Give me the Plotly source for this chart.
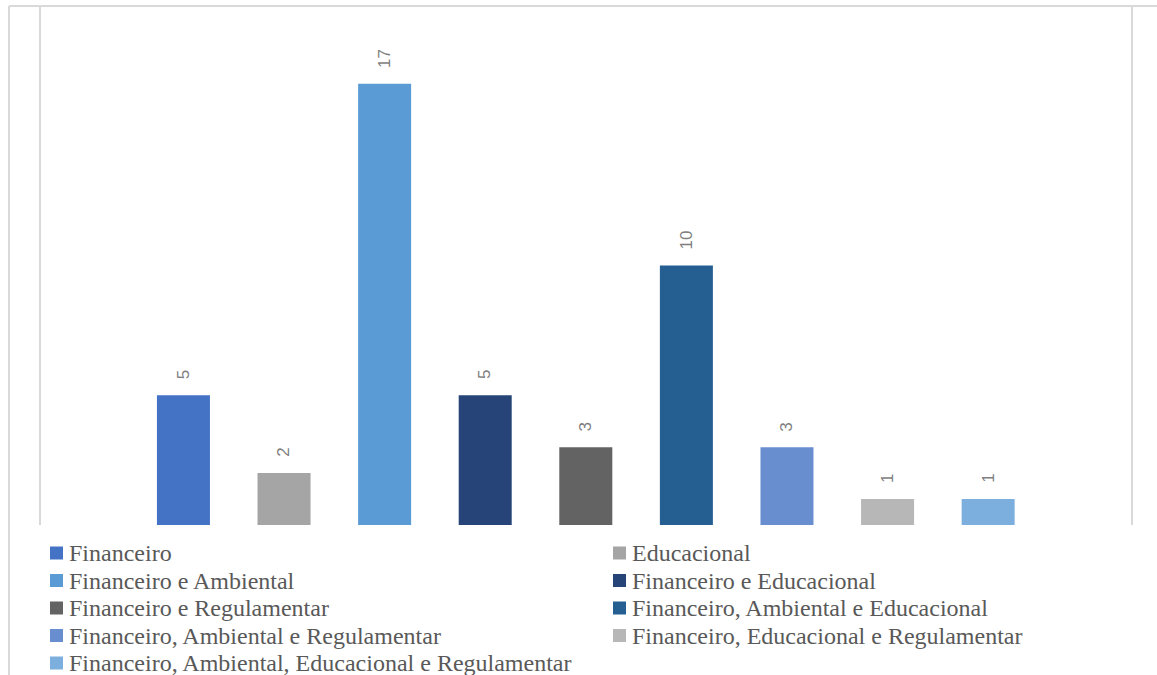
import plotly.graph_objects as go

categories = [
    "Financeiro",
    "Educacional",
    "Financeiro e Ambiental",
    "Financeiro e Educacional",
    "Financeiro e Regulamentar",
    "Financeiro, Ambiental e Educacional",
    "Financeiro, Ambiental e Regulamentar",
    "Financeiro, Educacional e Regulamentar",
    "Financeiro, Ambiental, Educacional e Regulamentar",
]
values = [5, 2, 17, 5, 3, 10, 3, 1, 1]
colors = ["#4472C4", "#A5A5A5", "#5B9BD5", "#264478", "#636363",
          "#255E91", "#698ED0", "#B7B7B7", "#7CAFDD"]

W, H = 1157, 675
ML, MR, MT, MB = 40, 25, 6, 150
PW, PH = W - ML - MR, H - MT - MB


def px_x(x):
    return (x - ML) / PW


def px_y(y):
    return (H - MB - y) / PH


fig = go.Figure()
for i, (name, v, c) in enumerate(zip(categories, values, colors)):
    fig.add_trace(go.Bar(x=[i], y=[v], name=name, marker_color=c,
                         marker_line_width=0, width=0.527, showlegend=False))
    fig.add_annotation(x=i, y=v, text=str(v), showarrow=False, textangle=-90,
                       yanchor="bottom", yshift=14,
                       font=dict(family="Liberation Sans", size=17, color="#7f7f7f"))

# manual legend, two columns
col_sym = [50, 613]
row_y0, row_dy = 553, 27.5
for i, (name, c) in enumerate(zip(categories, colors)):
    r, k = divmod(i, 2)
    sx = col_sym[k]
    cy = row_y0 + r * row_dy
    fig.add_shape(type="rect", xref="paper", yref="paper",
                  x0=px_x(sx), x1=px_x(sx + 13), y0=px_y(cy - 6.5), y1=px_y(cy + 6.5),
                  fillcolor=c, line_width=0)
    fig.add_annotation(xref="paper", yref="paper", x=px_x(sx + 17), y=px_y(cy),
                       xanchor="left", yanchor="middle", text=name, showarrow=False,
                       font=dict(family="Liberation Serif", size=24, color="#595959"))

line = dict(color="#d9d9d9", width=2)
fig.add_shape(type="line", xref="paper", yref="paper", x0=0, x1=0, y0=0, y1=1, line=line)
fig.add_shape(type="line", xref="paper", yref="paper", x0=1, x1=1, y0=0, y1=1, line=line)
fig.add_shape(type="line", xref="paper", yref="paper", x0=px_x(9), x1=px_x(1160),
              y0=1.0, y1=1.0, line=line)
fig.add_shape(type="line", xref="paper", yref="paper", x0=px_x(9), x1=px_x(9),
              y0=1.0, y1=px_y(680), line=line)

fig.update_layout(
    width=W, height=H,
    margin=dict(l=ML, r=MR, t=MT, b=MB),
    paper_bgcolor="white", plot_bgcolor="white",
    barmode="overlay",
    showlegend=False,
    xaxis=dict(range=[-1.426, 9.43], showticklabels=False, showgrid=False,
               zeroline=False, showline=False, ticks=""),
    yaxis=dict(range=[0, 20], showticklabels=False, showgrid=False,
               zeroline=False, showline=False, ticks=""),
)

fig.write_html("out.html")
